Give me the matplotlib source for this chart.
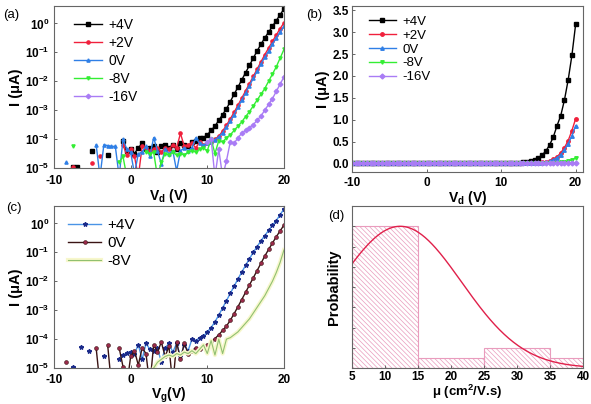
import numpy as np
import matplotlib
matplotlib.use("Agg")
import matplotlib.pyplot as plt
import matplotlib.ticker as mticker
import matplotlib.patheffects as pe

plt.rcParams['font.family'] = ['Liberation Sans', 'DejaVu Sans']
plt.rcParams['mathtext.fontset'] = 'custom'
plt.rcParams['mathtext.rm'] = 'Liberation Sans:bold'
plt.rcParams['mathtext.bf'] = 'Liberation Sans:bold'
plt.rcParams['mathtext.it'] = 'Liberation Sans:bold'
plt.rcParams['axes.unicode_minus'] = False
plt.rcParams['hatch.linewidth'] = 0.5

nan = np.nan

# sweep voltage, -10 V .. 20 V in 0.5 V steps (61 points)
v_sweep = np.arange(-10, 20.5, 0.5)

# ---- (a) output curves, log10(I / uA) ----
a_p4 = [nan, nan, nan, nan, nan, -4.95, -4.97, nan, nan, nan,
        -4.4, nan, nan, nan, -4.55, nan, nan, nan, -4.05, -4.4,
        -4.35, -4.5, -4.3, -4.15, -4.35, -4.3, -4.25, -4.45, -4.25, -4.2,
        -4.3, -4.2, -4.35, -4.15, -4.2, -4.25, -4.1, -4.05, -3.95, -3.95,
        -3.85, -3.7, -3.55, -3.35, -3.15, -2.95, -2.7, -2.45, -2.2, -1.95,
        -1.7, -1.45, -1.2, -0.95, -0.72, -0.5, -0.3, -0.1, 0.1, 0.3, 0.5]
a_p2 = [nan, nan, nan, nan, nan, -4.97, nan, nan, nan, nan,
        -4.83, nan, -4.57, nan, nan, nan, nan, nan, -4.2, -4.55,
        -4.35, -4.6, -5.3, -4.25, -4.3, -4.4, -4.35, -4.3, -4.45, -4.3,
        -4.35, -4.2, -4.3, -3.8, -4.25, -4.2, -4.15, -4.3, -4.1, -4.2,
        -4.15, -4.1, -4.0, -3.9, -3.72, -3.52, -3.3, -3.07, -2.83, -2.58,
        -2.33, -2.08, -1.83, -1.58, -1.33, -1.08, -0.85, -0.62, -0.4, -0.18, 0.02]
a_0 = [nan, nan, nan, -4.8, nan, nan, nan, nan, nan, nan,
       nan, -4.2, -5.3, -4.2, -4.22, -4.25, -4.25, -5.3, -4.0, -4.35,
       -4.45, -5.2, -4.5, -4.45, -4.25, -4.6, -3.95, -4.4, -4.85, -4.35,
       -4.5, -4.4, -5.1, -4.4, -4.3, -4.4, -4.3, -3.95, -4.15, -4.2,
       -4.15, -4.1, -4.02, -3.92, -3.78, -3.58, -3.38, -3.15, -2.9, -2.65,
       -2.4, -2.15, -1.9, -1.65, -1.4, -1.17, -0.95, -0.72, -0.5, -0.3, -0.1]
a_m8 = [nan, nan, nan, nan, nan, -4.25, nan, nan, nan, nan,
        nan, nan, nan, nan, nan, nan, nan, -4.8, -4.6, -5.3,
        nan, nan, nan, nan, -4.45, -4.5, -4.45, -5.3, -4.8, -4.5,
        -4.55, -4.45, -4.55, -4.5, -4.55, -4.45, -4.4, -4.45, -4.35, -4.3,
        -4.4, -4.0, -4.5, -4.05, -4.1, -3.95, -3.85, -3.7, -3.55, -3.4,
        -3.22, -3.05, -2.85, -2.65, -2.45, -2.25, -2.0, -1.75, -1.5, -1.2, -0.9]
a_m16 = [nan] * 40 + [
        -4.1, -4.0, -5.3, -4.35, -5.3, -4.75, -4.1, -4.15, -3.95, -3.8,
        -3.7, -3.6, -3.5, -3.35, -3.2, -3.0, -2.8, -2.6, -2.35, -2.1, -1.85]

# ---- (b) same sweep on a linear axis, I in uA ----
b_p4 = [0.0] * 46 + [0.02, 0.03, 0.05, 0.08, 0.13, 0.19, 0.28, 0.42, 0.6,
                     0.86, 1.09, 1.45, 1.91, 2.47, 3.18]
b_p2 = [0.0] * 46 + [0.0, 0.0, 0.005, 0.01, 0.015, 0.02, 0.03, 0.05, 0.09,
                     0.15, 0.24, 0.36, 0.52, 0.75, 1.02]
b_0 = [0.0] * 46 + [0.0, 0.0, 0.004, 0.008, 0.012, 0.018, 0.026, 0.045, 0.08,
                    0.13, 0.2, 0.31, 0.45, 0.63, 0.86]
b_m8 = [0.0] * 54 + [0.005, 0.01, 0.02, 0.03, 0.05, 0.08, 0.13]
b_m16 = [0.0] * 60 + [0.015]

# ---- (c) transfer curves, log10(I / uA) ----
c_p4 = [nan, nan, nan, nan, nan, -4.95, nan, -4.28, nan, -4.4,
        nan, nan, nan, -4.57, nan, nan, nan, -4.68, -4.55, -4.48,
        -4.43, -4.5, -4.2, -4.7, -4.15, -4.35, -4.4, -4.3, -4.8, -4.3,
        -4.15, -4.45, -4.15, -4.6, -4.2, -4.4, -4.0, -4.05, -3.95, -3.9,
        -3.75, -3.6, -3.4, -3.17, -2.92, -2.67, -2.42, -2.17, -1.92, -1.68,
        -1.45, -1.22, -1.0, -0.8, -0.6, -0.42, -0.24, -0.07, 0.1, 0.3, 0.5]
c_0 = [nan, nan, nan, -4.8, nan, nan, nan, nan, nan, nan,
       nan, -4.31, -5.6, nan, -4.2, -5.6, nan, -4.3, -4.95, -5.6,
       -4.6, -4.4, -4.9, -4.3, -4.5, -5.6, -4.2, -4.45, -4.1, -4.6,
       -4.25, -5.6, -4.1, -4.7, -4.15, -4.5, -4.4, -4.3, -4.35, -4.25,
       -4.2, -4.1, -3.98, -3.85, -3.7, -3.55, -3.35, -3.12, -2.88, -2.63,
       -2.38, -2.13, -1.88, -1.63, -1.38, -1.13, -0.9, -0.68, -0.46, -0.26, -0.06]
c_m8 = [nan] * 25 + [
        -5.6, -5.0, -4.8, -4.7, -4.6, -4.55, -4.6, -4.5, -4.55, -4.45,
        -4.5, -4.4, -4.5, -4.35, -4.2, -4.5, -4.05, -4.55, -4.0, -4.5,
        -4.0, -3.95, -3.85, -3.75, -3.6, -3.45, -3.3, -3.1, -2.9, -2.7,
        -2.5, -2.25, -2.0, -1.7, -1.35, -0.92]

# ---- (d) mobility histogram ----
mu_edges = [5, 15, 25, 35, 45]
mu_prob = [0.70, 0.05, 0.10, 0.05]
fit_mean, fit_sigma, fit_peak = 12.3, 9.3, 0.70

col = {'+4V': '#000000', '+2V': '#f0203c', '0V': '#2f7fe6',
       '-8V': '#33ee33', '-16V': '#a97cf5'}
mk = {'+4V': 's', '+2V': 'o', '0V': '^', '-8V': 'v', '-16V': 'D'}

fig = plt.figure(figsize=(5.91, 4.04), dpi=100)
ax_a = fig.add_axes([0.0914, 0.584, 0.389, 0.401])
ax_b = fig.add_axes([0.5956, 0.574, 0.391, 0.411])
ax_c = fig.add_axes([0.0914, 0.089, 0.389, 0.401])
ax_d = fig.add_axes([0.5956, 0.089, 0.391, 0.401])


def style(ax, xpad=3.5, ypad=2):
    for s in ax.spines.values():
        s.set_color('#666666')
        s.set_linewidth(0.8)
    ax.tick_params(direction='in', length=2.5, width=0.7, labelsize=8.5,
                   color='#666666')
    ax.tick_params(axis='x', pad=xpad)
    ax.tick_params(axis='y', pad=ypad)
    for lab in ax.get_xticklabels() + ax.get_yticklabels():
        lab.set_fontweight('bold')


def log_axis(ax):
    ax.set_yscale('log')
    ax.set_ylim(1e-5, 4)
    ax.set_xlim(-10, 20)
    ax.yaxis.set_major_locator(mticker.FixedLocator([1e-5, 1e-4, 1e-3, 1e-2, 1e-1, 1e0]))
    ax.yaxis.set_major_formatter(mticker.FuncFormatter(
        lambda v, p: r'$\mathbf{10^{%d}}$' % round(np.log10(v))))
    ax.yaxis.set_minor_locator(mticker.NullLocator())
    ax.set_xticks([-10, 0, 10, 20])
    ax.set_ylabel('I (μA)', fontsize=10.5, fontweight='bold', labelpad=1)


# (a)
a_sets = [('+4V', a_p4), ('+2V', a_p2), ('0V', a_0), ('-8V', a_m8), ('-16V', a_m16)]
for name, vals in a_sets:
    ax_a.plot(v_sweep, 10 ** np.array(vals), color=col[name], marker=mk[name],
              ms=2.3, lw=1, label=name)
log_axis(ax_a)
ax_a.set_xlabel(r'V$_\mathbf{d}$ (V)', fontsize=10, fontweight='bold', labelpad=0)
ax_a.legend(loc='upper left', bbox_to_anchor=(0.05, 0.98), frameon=False,
            fontsize=10, handlelength=2.0, labelspacing=0.3, handletextpad=0.5,
            borderaxespad=0.2)
style(ax_a, xpad=5, ypad=3.5)
fig.text(0.005, 0.955, '(a)', fontsize=9.5)

# (b)
b_sets = [('+4V', b_p4), ('+2V', b_p2), ('0V', b_0), ('-8V', b_m8), ('-16V', b_m16)]
for name, vals in b_sets:
    ax_b.plot(v_sweep, vals, color=col[name], marker=mk[name], ms=2.5, lw=1, label=name)
ax_b.set_xlim(-10, 21)
ax_b.set_ylim(-0.2, 3.6)
ax_b.set_xticks([-10, 0, 10, 20])
ax_b.set_yticks([0, 0.5, 1.0, 1.5, 2.0, 2.5, 3.0, 3.5])
ax_b.yaxis.set_major_formatter(mticker.FormatStrFormatter('%.1f'))
ax_b.set_xlabel(r'V$_\mathbf{d}$ (V)', fontsize=10, fontweight='bold', labelpad=0)
ax_b.set_ylabel('I (μA)', fontsize=10.5, fontweight='bold', labelpad=2)
ax_b.legend(loc='upper left', bbox_to_anchor=(0.04, 0.99), frameon=False,
            fontsize=9.5, handlelength=2.0, labelspacing=0.12, handletextpad=0.5,
            borderaxespad=0.2)
style(ax_b)
fig.text(0.518, 0.955, '(b)', fontsize=9.5)

# (c)
ax_c.plot(v_sweep, 10 ** np.array(c_p4), color='#4a94e6', marker='*', ms=3.2,
          mfc='#1a2a8a', mec='#1a2a8a', lw=1, label='+4V')
ax_c.plot(v_sweep, 10 ** np.array(c_0), color='#3a1414', marker='o', ms=2.8,
          mfc='#9a2a4a', mec='#3a1414', mew=0.4, lw=1, label='0V')
ax_c.plot(v_sweep, 10 ** np.array(c_m8), color='#90c070', lw=0.8, label='-8V',
          path_effects=[pe.Stroke(linewidth=3, foreground='#f7f7cc'), pe.Normal()])
log_axis(ax_c)
ax_c.set_xlabel(r'V$_\mathbf{g}$(V)', fontsize=10, fontweight='bold', labelpad=0)
ax_c.legend(loc='upper left', bbox_to_anchor=(0.02, 0.98), frameon=False,
            fontsize=11, handlelength=2.2, labelspacing=0.25, handletextpad=0.4,
            borderaxespad=0.2)
style(ax_c, xpad=4, ypad=3.5)
fig.text(0.01, 0.478, '(c)', fontsize=9.5)

# (d)
ax_d.bar(mu_edges[:-1], mu_prob, width=np.diff(mu_edges), align='edge',
         facecolor='none', edgecolor='#e99cbd', hatch='\\' * 7, lw=0.8)
xs = np.linspace(5, 40, 200)
ax_d.plot(xs, fit_peak * np.exp(-(xs - fit_mean) ** 2 / (2 * fit_sigma ** 2)),
          color='#e0204a', lw=1)
ax_d.set_xlim(5, 40)
ax_d.set_ylim(0, 0.8)
ax_d.set_xticks([5, 10, 15, 20, 25, 30, 35, 40])
ax_d.set_yticks(np.arange(0, 0.81, 0.1))
ax_d.set_yticklabels([])
ax_d.set_xlabel('μ (cm$^2$/V.s)', fontsize=9.5, fontweight='bold', labelpad=0)
ax_d.set_ylabel('Probability', fontsize=10.5, fontweight='bold', labelpad=6)
style(ax_d, xpad=2)
fig.text(0.556, 0.458, '(d)', fontsize=9.5)

fig.savefig('out.png', dpi=100)
